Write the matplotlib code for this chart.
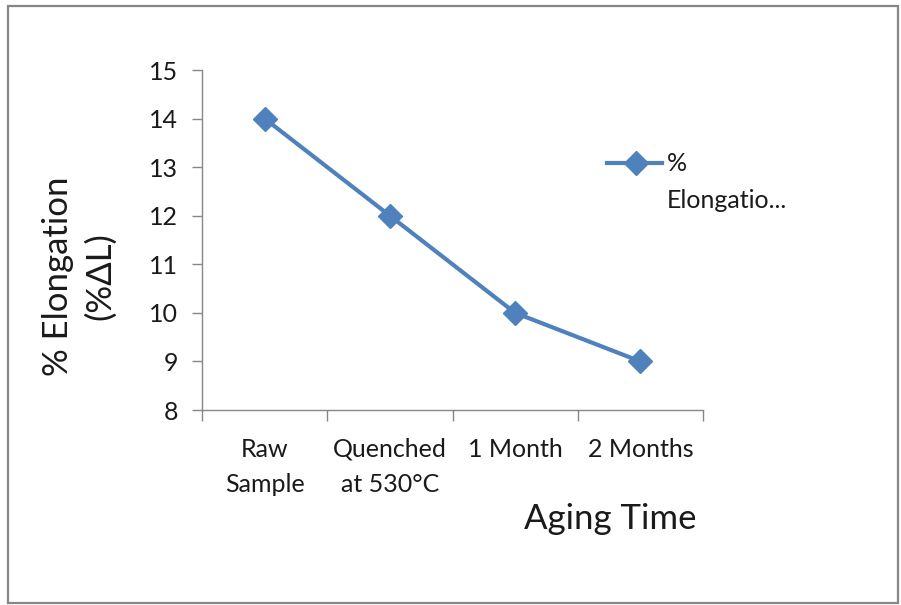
import matplotlib.pyplot as plt
from matplotlib.patches import Rectangle
from matplotlib.lines import Line2D

categories = ["Raw\nSample", "Quenched\nat 530°C", "1 Month", "2 Months"]
elongation = [14, 12, 10, 9]
yticks = [8, 9, 10, 11, 12, 13, 14, 15]

blue = "#4F81BD"
grey = "#868686"
txt = "#1a1a1a"
plt.rcParams['font.family'] = ['Lato', 'DejaVu Sans']

fig = plt.figure(figsize=(9.01, 6.05), dpi=100)
fig.patches.append(Rectangle((8 / 901, 2 / 605), 890 / 901, 597 / 605, transform=fig.transFigure,
                             fill=False, edgecolor=grey, linewidth=1.6))

ax = fig.add_axes([202 / 901, 1 - 410 / 605, 501 / 901, 340 / 605])
x = [i + 0.5 for i in range(len(categories))]
ax.plot(x, elongation, color=blue, linewidth=3, marker="D", markersize=12, label="%\nElongatio...")

ax.set_xlim(0, len(categories))
ax.set_ylim(8, 15)
ax.set_yticks(yticks)
ax.set_xticks(range(len(categories) + 1))
ax.set_xticklabels([])
ax.set_xticks(x, minor=True)
ax.set_xticklabels(categories, minor=True, fontsize=18, color=txt, linespacing=1.65)
ax.tick_params(axis="x", which="minor", length=0, pad=20)
ax.tick_params(axis="x", which="major", length=8, color=grey, width=1)
ax.tick_params(axis="y", length=7, color=grey, width=1, labelsize=18, pad=10, labelcolor=txt)
for s in ["top", "right"]:
    ax.spines[s].set_visible(False)
for s in ["left", "bottom"]:
    ax.spines[s].set_color(grey)
    ax.spines[s].set_linewidth(1)

fig.text(610 / 901, 1 - 519 / 605, "Aging Time", fontsize=25, ha="center", va="center", color=txt)
fig.text(79 / 901, 1 - 276 / 605, "% Elongation\n(%ΔL)", fontsize=25, ha="center", va="center",
         rotation=90, linespacing=1.4, color=txt)

# legend drawn by hand in figure coordinates
fig.lines.append(Line2D([607 / 901, 662 / 901], [1 - 163 / 605] * 2, transform=fig.transFigure,
                        color=blue, linewidth=3))
fig.lines.append(Line2D([636 / 901], [1 - 163 / 605], transform=fig.transFigure,
                        color=blue, marker="D", markersize=12))
fig.text(667 / 901, 1 - 163 / 605, "%", fontsize=18, va="center", color=txt)
fig.text(667 / 901, 1 - 201 / 605, "Elongatio...", fontsize=18, va="center", color=txt)

fig.savefig("out.png", dpi=100)
